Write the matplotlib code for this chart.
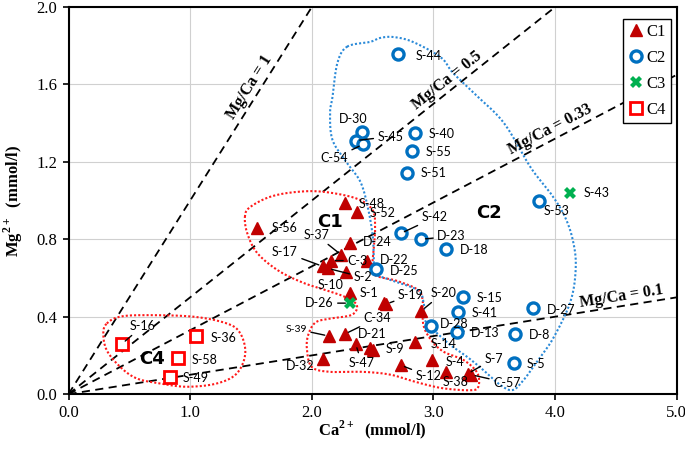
import numpy as np
import matplotlib
matplotlib.use("Agg")
import matplotlib.pyplot as plt

plt.rcParams['mathtext.fontset'] = 'custom'
plt.rcParams['mathtext.rm'] = 'Liberation Serif'
plt.rcParams['mathtext.bf'] = 'Liberation Serif:bold'

# ---------------- data ----------------
c1_ids = ["S-56", "S-48", "S-52", "D-24", "S-37", "C-3", "S-17", "S-2", "", "D-22",
          "S-10", "S-1", "S-19", "S-20", "C-34", "S-39", "D-21", "S-9", "S-47", "S-14",
          "D-32", "S-12", "S-4", "S-38", "S-7", "C-57"]
c1_ca = [1.55, 2.27, 2.37, 2.31, 2.24, 2.16, 2.09, 2.13, 2.28, 2.45,
         2.31, 2.59, 2.61, 2.90, 2.27, 2.14, 2.48, 2.50, 2.36, 2.85,
         2.09, 2.73, 2.99, 3.10, 3.28, 3.31]
c1_mg = [0.86, 0.99, 0.94, 0.78, 0.72, 0.69, 0.66, 0.65, 0.63, 0.69,
         0.52, 0.47, 0.465, 0.43, 0.31, 0.30, 0.24, 0.23, 0.26, 0.27,
         0.18, 0.15, 0.175, 0.115, 0.105, 0.10]

c2_ids = ["S-44", "D-30", "S-45", "C-54", "S-40", "S-55", "S-51", "S-42", "D-23", "D-18",
          "D-25", "S-15", "S-41", "D-28", "D-13", "D-27", "D-8", "S-5", "S-53"]
c2_ca = [2.71, 2.41, 2.36, 2.42, 2.85, 2.82, 2.78, 2.73, 2.90, 3.10,
         2.53, 3.24, 3.20, 2.98, 3.19, 3.82, 3.67, 3.66, 3.87]
c2_mg = [1.755, 1.355, 1.31, 1.29, 1.35, 1.255, 1.14, 0.83, 0.80, 0.75,
         0.645, 0.50, 0.425, 0.35, 0.32, 0.445, 0.31, 0.16, 1.00]

c3_ids = ["S-43", "D-26"]
c3_ca = [4.12, 2.31]
c3_mg = [1.04, 0.47]

c4_ids = ["S-16", "S-36", "S-58", "S-49"]
c4_ca = [0.44, 1.05, 0.90, 0.835]
c4_mg = [0.26, 0.30, 0.185, 0.09]

ratios = [1, 0.5, 0.33, 0.1]
ratio_labels = ["Mg/Ca = 1", "Mg/Ca = 0.5", "Mg/Ca = 0.33", "Mg/Ca = 0.1"]

x_ticks = [0.0, 1.0, 2.0, 3.0, 4.0, 5.0]
y_ticks = [0.0, 0.4, 0.8, 1.2, 1.6, 2.0]

# group outlines (data coordinates)
c1_outline = [(1.45, 0.915), (1.49, 0.965), (1.66, 1.02), (1.88, 1.045), (2.10, 1.045),
              (2.37, 1.01), (2.50, 0.95), (2.52, 0.86), (2.51, 0.76), (2.50, 0.68),
              (2.52, 0.615), (2.70, 0.585), (2.87, 0.54), (2.91, 0.49), (2.91, 0.43),
              (2.92, 0.35), (2.98, 0.28), (3.08, 0.22), (3.25, 0.175), (3.36, 0.11),
              (3.37, 0.04), (3.31, 0.02), (3.08, 0.03), (2.87, 0.06), (2.65, 0.10),
              (2.42, 0.115), (2.15, 0.115), (2.00, 0.14), (1.96, 0.23), (1.97, 0.305),
              (2.03, 0.37), (2.15, 0.39), (2.33, 0.41), (2.37, 0.46), (2.28, 0.50),
              (2.15, 0.53), (1.93, 0.575), (1.72, 0.64), (1.55, 0.73), (1.47, 0.83)]
c2_outline = [(2.29, 1.795), (2.48, 1.82), (2.56, 1.84), (2.67, 1.845), (2.83, 1.82),
              (3.06, 1.74), (3.16, 1.66), (3.35, 1.545), (3.58, 1.40), (3.80, 1.17),
              (3.96, 1.04), (4.07, 0.93), (4.14, 0.81), (4.17, 0.667), (4.13, 0.486),
              (3.99, 0.295), (3.86, 0.176), (3.74, 0.072), (3.65, 0.021), (3.55, 0.047),
              (3.41, 0.124), (3.28, 0.191), (3.14, 0.253), (3.03, 0.315), (2.93, 0.382),
              (2.92, 0.47), (2.87, 0.537), (2.65, 0.589), (2.51, 0.625), (2.51, 0.69),
              (2.50, 0.82), (2.46, 0.966), (2.40, 1.096), (2.29, 1.194), (2.17, 1.313),
              (2.15, 1.452), (2.17, 1.535), (2.21, 1.71)]
c4_outline = [(0.315, 0.365), (0.424, 0.40), (0.644, 0.408), (1.027, 0.40), (1.302, 0.365),
              (1.412, 0.314), (1.453, 0.21), (1.384, 0.107), (1.22, 0.055), (0.973, 0.038),
              (0.753, 0.055), (0.561, 0.081), (0.424, 0.141), (0.314, 0.227), (0.286, 0.314)]

# label placement: offset in pixels (dx, dy up), ha, leader
lab = {
    "S-44": (17, -2, 'left', False), "D-30": (-9, 13, 'center', False),
    "S-45": (22, 4, 'left', True), "C-54": (-15, -14, 'right', True),
    "S-40": (13, -1, 'left', False), "S-55": (14, -1, 'left', False),
    "S-51": (14, 0, 'left', False), "S-42": (21, 16, 'left', True),
    "D-23": (16, 3, 'left', True), "D-18": (14, -1, 'left', False),
    "D-25": (14, -2, 'left', False), "S-15": (14, -1, 'left', False),
    "S-41": (14, -1, 'left', False), "D-28": (9, 2, 'left', False),
    "D-13": (14, -1, 'left', False), "D-27": (14, -2, 'left', False),
    "D-8": (14, -1, 'left', False), "S-5": (13, -1, 'left', False),
    "S-53": (4, -10, 'left', False), "S-43": (14, 0, 'left', False),
    "D-26": (-16, 0, 'right', True),
    "S-56": (15, 0, 'left', False), "S-48": (14, -1, 'left', False),
    "S-52": (13, -1, 'left', False), "D-24": (13, 1, 'left', False),
    "S-37": (-12, 20, 'right', True), "C-3": (16, 0, 'left', True),
    "S-17": (-25, 14, 'right', True), "S-2": (26, -9, 'left', True),
    "D-22": (13, 1, 'left', False), "S-10": (-19, 8, 'center', False),
    "S-1": (-5, 10, 'right', False), "S-19": (12, 9, 'left', True),
    "S-20": (9, 18, 'left', True), "C-34": (19, 16, 'left', True),
    "S-39": (-22, 7, 'right', True), "D-21": (-12, 14, 'left', False),
    "S-9": (13, 1, 'left', False), "S-47": (-7, -19, 'left', True),
    "S-14": (15, -2, 'left', False), "D-32": (-8, -7, 'right', False),
    "S-12": (15, -11, 'left', True), "S-4": (13, -2, 'left', False),
    "S-38": (-3, -10, 'left', False), "S-7": (17, 15, 'left', True),
    "C-57": (22, -8, 'left', True),
    "S-16": (8, 18, 'left', True), "S-36": (14, -2, 'left', False),
    "S-58": (14, -2, 'left', False), "S-49": (13, -1, 'left', False),
}

def smooth_closed(pts, n=16):
    P = np.array(pts, dtype=float)
    N = len(P)
    out = []
    t = np.linspace(0, 1, n, endpoint=False)[:, None]
    for i in range(N):
        p0, p1, p2, p3 = P[i - 1], P[i], P[(i + 1) % N], P[(i + 2) % N]
        seg = 0.5 * ((2 * p1) + (-p0 + p2) * t + (2 * p0 - 5 * p1 + 4 * p2 - p3) * t ** 2
                     + (-p0 + 3 * p1 - 3 * p2 + p3) * t ** 3)
        out.append(seg)
    out = np.vstack(out)
    return np.vstack([out, out[:1]])

# ---------------- figure ----------------
fig = plt.figure(figsize=(6.85, 4.53), dpi=100)
ax = fig.add_axes([0.1, 0.130, 0.888, 0.8545])
ax.set_xlim(0, 5)
ax.set_ylim(0, 2)
ax.set_xticks(x_ticks)
ax.set_yticks(y_ticks)
ax.set_xticklabels([f"{v:.1f}" for v in x_ticks], family='Liberation Serif', fontsize=12)
ax.set_yticklabels([f"{v:.1f}" for v in y_ticks], family='Liberation Serif', fontsize=12)
ax.grid(True, color='#d0d0d0', linewidth=0.8)
ax.set_axisbelow(True)
for s in ax.spines.values():
    s.set_linewidth(1.5)
ax.tick_params(direction='out', length=4, width=1.2, pad=4)

ax.set_xlabel(r'Ca$^{\mathbf{2+}}$  (mmol/l)', family='Liberation Serif', fontweight='bold',
              fontsize=12, labelpad=-2)
ax.set_ylabel(r'Mg$^{\mathbf{2+}}$  (mmol/l)', family='Liberation Serif', fontweight='bold',
              fontsize=12, labelpad=8)

# ratio lines
xx = np.array([0, 5.0])
for r in ratios:
    ax.plot(xx, r * xx, color='black', linestyle=(0, (4.5, 3)), linewidth=1.3, zorder=2)

# outlines
for pts, col in [(c1_outline, '#ff1a1a'), (c2_outline, '#2b8ad8'), (c4_outline, '#ff1a1a')]:
    sm = smooth_closed(pts)
    ax.plot(sm[:, 0], sm[:, 1], color=col, linestyle=(0, (1, 1)), linewidth=1.5, zorder=2)

# markers
ax.plot(c1_ca, c1_mg, linestyle='none', marker='^', markersize=8.5, color='#C00000',
        zorder=4, label='C1')
ax.plot(c2_ca, c2_mg, linestyle='none', marker='o', markersize=8, markerfacecolor='white',
        markeredgecolor='#0070C0', markeredgewidth=2.4, zorder=4, label='C2')
ax.plot(c3_ca, c3_mg, linestyle='none', marker='X', markersize=8, color='#00B050',
        markeredgewidth=0, zorder=5, label='C3')
ax.plot(c4_ca, c4_mg, linestyle='none', marker='s', markersize=8, markerfacecolor='white',
        markeredgecolor='#FF0000', markeredgewidth=2.0, zorder=4, label='C4')

# sample labels
for ids, xs, ys in [(c1_ids, c1_ca, c1_mg), (c2_ids, c2_ca, c2_mg),
                    (c3_ids, c3_ca, c3_mg), (c4_ids, c4_ca, c4_mg)]:
    for name, x, y in zip(ids, xs, ys):
        if not name:
            continue
        dx, dy, ha, leader = lab[name]
        fs = 7.5 if name == "S-39" else 9
        kw = {}
        if leader:
            kw['arrowprops'] = dict(arrowstyle='-', color='black', lw=1.0,
                                    shrinkA=1, shrinkB=3)
        ax.annotate(name, (x, y), xytext=(dx, dy), textcoords='offset pixels',
                    ha=ha, va='center', fontsize=fs, family='Lato', zorder=6, **kw)

# group labels
for txt, gx, gy in [("C1", 2.15, 0.89), ("C2", 3.46, 0.935), ("C4", 0.69, 0.18)]:
    ax.text(gx, gy, txt, fontsize=13, fontweight='bold',
            family=['Liberation Sans Narrow', 'DejaVu Sans'], ha='center', va='center',
            zorder=6)

# ratio labels
label_pos = {1: 1.56, 0.5: 3.16, 0.33: 4.0, 0.1: 4.56}
fig.canvas.draw()
for r, txt in zip(ratios, ratio_labels):
    x0 = label_pos[r]
    p1 = ax.transData.transform((0, 0))
    p2 = ax.transData.transform((1, r))
    ang = np.degrees(np.arctan2(p2[1] - p1[1], p2[0] - p1[0]))
    off = 10
    ox, oy = -off * np.sin(np.radians(ang)), off * np.cos(np.radians(ang))
    ax.annotate(txt, (x0, r * x0), xytext=(ox, oy), textcoords='offset pixels',
                rotation=ang, rotation_mode='anchor', ha='center', va='center',
                family='Liberation Serif', fontweight='bold', fontsize=11.5, zorder=6)

leg = ax.legend(loc='upper right', bbox_to_anchor=(0.99, 0.969), frameon=True,
                fancybox=False, edgecolor='black', framealpha=1,
                prop={'family': 'Liberation Serif', 'size': 12},
                handletextpad=0.1, handlelength=1.0, borderpad=0.3, labelspacing=0.6,
                borderaxespad=0.0)
leg.get_frame().set_linewidth(1.0)

fig.savefig('out.png', dpi=100)
